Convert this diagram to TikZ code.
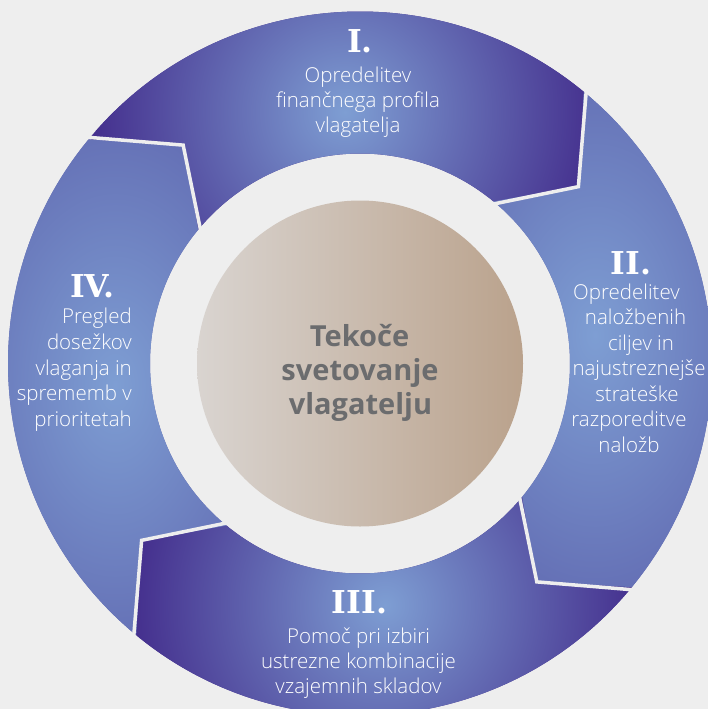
\documentclass[tikz,border=0pt]{standalone}
\usepackage{fontspec}
\usetikzlibrary{calc}
\IfFontExistsTF{Open Sans Light}{\newfontfamily\bodyfont{Open Sans Light}}{\newfontfamily\bodyfont{Open Sans}}
\newfontfamily\corefont{Open Sans}
\newfontfamily\numfont{DejaVu Serif}
\definecolor{bg}{HTML}{EEEEEE}
\definecolor{ringlight}{HTML}{7E9ED3}
\definecolor{ringdark}{HTML}{45308E}
\definecolor{ringmid}{HTML}{5F66AF}
\definecolor{coreL}{HTML}{D9D4D0}
\definecolor{coreR}{HTML}{BAA28C}
\definecolor{coretext}{HTML}{6B6C6E}
\begin{document}
\begin{tikzpicture}[x=1pt,y=-1pt,
  numlbl/.style={text=white, font=\numfont\bfseries\fontsize{31.5}{32}\selectfont, anchor=base, inner sep=0pt},
  bodylbl/.style={text=white, font=\bodyfont\fontsize{20.5}{25}\selectfont, anchor=base, inner sep=0pt},
  corelbl/.style={text=coretext, font=\corefont\bfseries\fontsize{29}{34}\selectfont, anchor=base, inner sep=0pt},
  gapline/.style={draw=bg, line width=3.5pt, line join=miter}]
\clip (0,0) rectangle (708,709);
\fill[bg] (0,0) rectangle (708,709);
\coordinate (C) at (360,363.5);
% ring segments
\foreach \A/\cx/\cy/\rx/\ry/\oc in {-140.5/345/112/250/250/ringdark, -50.5/595/335/200/320/ringmid, 39.5/385/605/250/250/ringdark, 129.5/115/385/200/320/ringmid}{
  \begin{scope}
    \clip ($(C)+(\A:352)$) arc[start angle=\A, end angle=\A+90, radius=352]
      -- ($(C)+({\A+101.5}:281)$) -- ($(C)+({\A+90}:210)$)
      arc[start angle=\A+90, end angle=\A, radius=210]
      -- ($(C)+({\A+11.5}:281)$) -- cycle;
    \fill[\oc] (0,0) rectangle (708,709);
    \shade[inner color=ringlight, outer color=\oc] (\cx,\cy) ellipse ({\rx} and {\ry});
  \end{scope}
}
% gaps between segments
\foreach \A in {-140.5,-50.5,39.5,129.5}{
  \draw[gapline] ($(C)+(\A:356)$) -- ($(C)+({\A+11.5}:281)$) -- ($(C)+(\A:206)$);
}
% core
\node[circle, inner sep=0pt, minimum size=326pt, left color=coreL, right color=coreR] (core) at (C) {};
\node[corelbl] (c1) at (359.5,346) {Tekoče};
\node[corelbl] (c2) at (360,380.5) {svetovanje};
\node[corelbl] (c3) at (360.5,414) {vlagatelju};
% I
\node[numlbl] (n1) at (360,52.5) {I.};
\node[bodylbl] (a1) at (358,82) {Opredelitev};
\node[bodylbl] (a2) at (358,107) {finančnega profila};
\node[bodylbl] (a3) at (358,132) {vlagatelja};
% II
\node[numlbl] (n2) at (631,274) {II.};
\node[bodylbl] (b1) at (626.5,299) {Opredelitev};
\node[bodylbl] (b2) at (635.5,324.5) {naložbenih};
\node[bodylbl] (b3) at (641,350) {ciljev in};
\node[bodylbl] (b4) at (639,375.5) {najustreznejše};
\node[bodylbl] (b5) at (637,401) {strateške};
\node[bodylbl] (b6) at (629,426.5) {razporeditve};
\node[bodylbl] (b7) at (629,452) {naložb};
% III
\node[numlbl] (n3) at (359.5,613) {III.};
\node[bodylbl] (d1) at (358.5,643) {Pomoč pri izbiri};
\node[bodylbl] (d2) at (358.5,668) {ustrezne kombinacije};
\node[bodylbl] (d3) at (358.5,693) {vzajemnih skladov};
% IV
\node[numlbl] (n4) at (92.5,297) {IV.};
\node[bodylbl, anchor=base east] (e1) at (132,323) {Pregled};
\node[bodylbl, anchor=base east] (e2) at (132,349) {dosežkov};
\node[bodylbl, anchor=base east] (e3) at (132,375) {vlaganja in};
\node[bodylbl, anchor=base east] (e4) at (132,400) {sprememb v};
\node[bodylbl, anchor=base east] (e5) at (132,426.5) {prioritetah};
\end{tikzpicture}
\end{document}
